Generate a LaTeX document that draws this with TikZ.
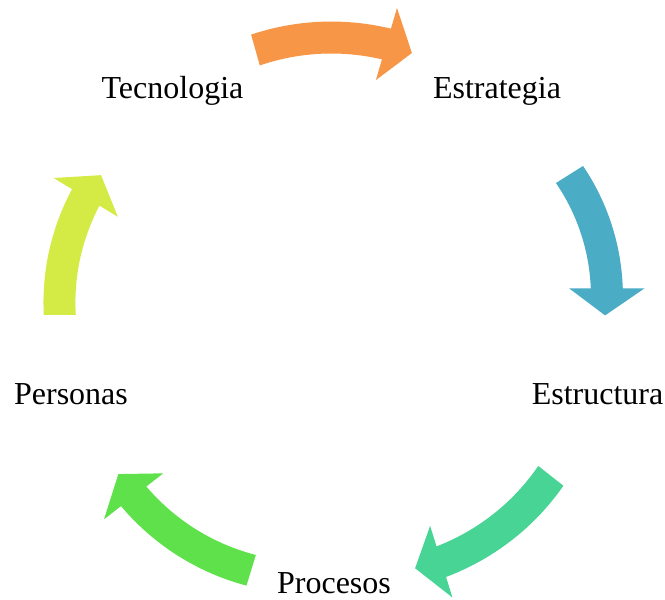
\documentclass[tikz,border=0pt]{standalone}
\usepackage{fontspec}
\setmainfont{Liberation Serif}

\definecolor{arOrange}{HTML}{F79646}
\definecolor{arBlue}{HTML}{4BACC6}
\definecolor{arTeal}{HTML}{48D494}
\definecolor{arGreen}{HTML}{5FE14B}
\definecolor{arYellow}{HTML}{D4EB45}

\tikzset{
  arrowfill/.style={fill=#1, draw=none},
  cyclelabel/.style={anchor=base, inner sep=0pt, font=\fontsize{32}{38}\selectfont},
}

% Curved block arrow running clockwise round its own centre.
% #1 colour, #2/#3 centre, #4 tail angle, #5 head angle,
% #6 radius at the tail, #7 radius at the head
\newcommand\cyclearrow[7]{%
  \begin{scope}[shift={(#2,#3)}]
    \pgfmathsetmacro\tipang{#5 - 27/(#7)*180/pi}
    \fill[arrowfill=#1]
      plot[domain=#4:#5, samples=40]
        (\x:{#6+((#7)-(#6))*(\x-(#4))/((#5)-(#4))+16})
      -- (#5:{#7+37.5}) -- (\tipang:{#7}) -- (#5:{#7-37.5})
      -- plot[domain=#5:#4, samples=40]
        (\x:{#6+((#7)-(#6))*(\x-(#4))/((#5)-(#4))-16})
      -- cycle;
  \end{scope}}

\begin{document}
\begin{tikzpicture}[x=1pt, y=1pt]
  \fill[white] (0,0) rectangle (665,600);
  \useasboundingbox (0,0) rectangle (665,600);

  % stage labels
  \node[cyclelabel] (tec)  at (172.5,501.7) {Tecnologia};
  \node[cyclelabel] (est)  at (497,501.7)   {Estrategia};
  \node[cyclelabel] (estr) at (597.5,195.7) {Estructura};
  \node[cyclelabel] (pro)  at (334,6.7)     {Procesos};
  \node[cyclelabel] (per)  at (71,195.7)    {Personas};

  % arrows between the stages
  \cyclearrow{arOrange}{318.8}{324.6}{105.7}{73.7}{234.1}{241.1}
  \cyclearrow{arBlue}{388.5}{311.5}{32.2}{0}{213.9}{218.3}
  \cyclearrow{arTeal}{370.3}{266.2}{-38.2}{-72.7}{229.7}{238.7}
  \cyclearrow{arGreen}{317.9}{246.6}{252.9}{217.8}{226.9}{233.2}
  \cyclearrow{arYellow}{280.7}{285}{180}{148.9}{220.9}{227.7}
\end{tikzpicture}
\end{document}
